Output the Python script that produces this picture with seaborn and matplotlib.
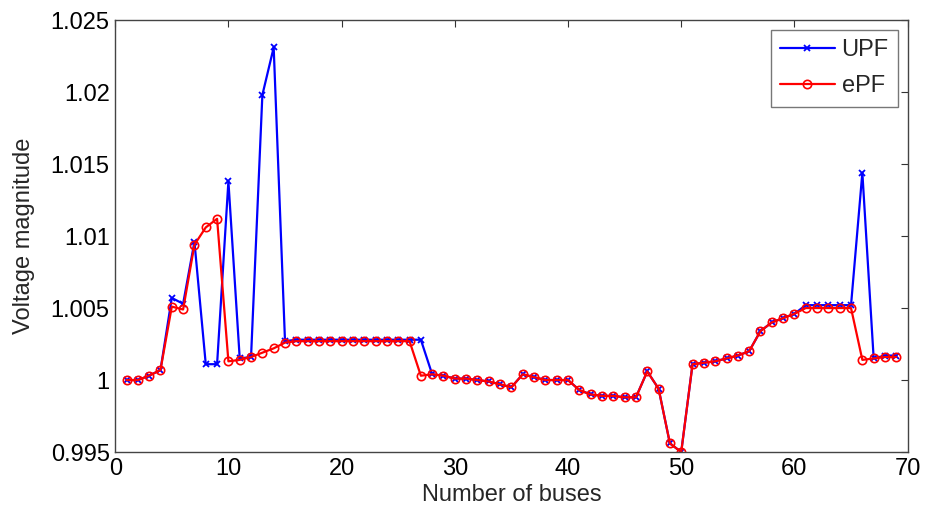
import pandas as pd
import matplotlib
matplotlib.use("Agg")
import matplotlib.pyplot as plt
import seaborn as sns

# Bus numbers and voltage magnitudes.
buses = list(range(1, 70))

upf = [
    1.0000, 1.0000, 1.0003, 1.0007, 1.0057, 1.0053, 1.0096, 1.0011, 1.0011, 1.0138,
    1.0015, 1.0016, 1.0198, 1.0231, 1.0027, 1.0028, 1.0028, 1.0028, 1.0028, 1.0028,
    1.0028, 1.0028, 1.0028, 1.0028, 1.0028, 1.0028, 1.0028, 1.0004, 1.0003, 1.0001,
    1.0001, 1.0000, 0.9999, 0.9997, 0.9995, 1.0004, 1.0002, 1.0000, 1.0000, 1.0000,
    0.9993, 0.9990, 0.9989, 0.9989, 0.9988, 0.9988, 1.0006, 0.9994, 0.9956, 0.9950,
    1.0011, 1.0012, 1.0013, 1.0015, 1.0017, 1.0020, 1.0034, 1.0040, 1.0043, 1.0046,
    1.0052, 1.0052, 1.0052, 1.0052, 1.0052, 1.0144, 1.0015, 1.0017, 1.0017,
]

epf = [
    1.0000, 1.0000, 1.0003, 1.0007, 1.0051, 1.0049, 1.0094, 1.0106, 1.0112, 1.0013,
    1.0014, 1.0016, 1.0019, 1.0022, 1.0026, 1.0027, 1.0027, 1.0027, 1.0027, 1.0027,
    1.0027, 1.0027, 1.0027, 1.0027, 1.0027, 1.0027, 1.0003, 1.0004, 1.0003, 1.0001,
    1.0001, 1.0000, 0.9999, 0.9997, 0.9995, 1.0004, 1.0002, 1.0000, 1.0000, 1.0000,
    0.9993, 0.9990, 0.9989, 0.9989, 0.9988, 0.9988, 1.0006, 0.9994, 0.9956, 0.9950,
    1.0011, 1.0012, 1.0013, 1.0015, 1.0017, 1.0020, 1.0034, 1.0040, 1.0043, 1.0046,
    1.0050, 1.0050, 1.0050, 1.0050, 1.0050, 1.0014, 1.0015, 1.0016, 1.0016,
]

df = pd.DataFrame({"Bus": buses, "UPF": upf, "ePF": epf})

sns.set_style("white")
plt.rcParams["font.family"] = ["Liberation Sans", "DejaVu Sans"]

fig = plt.figure(figsize=(9.29, 5.16), dpi=100)
ax = fig.add_axes([0.124, 0.124, 0.853, 0.837])

sns.lineplot(data=df, x="Bus", y="UPF", ax=ax, color="#0000ff", marker="x",
             markersize=5, markeredgecolor="#0000ff", markeredgewidth=1.3,
             linewidth=1.6, label="UPF")
sns.lineplot(data=df, x="Bus", y="ePF", ax=ax, color="#ff0000", marker="o",
             markersize=6, markerfacecolor="none", markeredgecolor="#ff0000",
             markeredgewidth=1.2, linewidth=1.6, label="ePF")

ax.set_xlim(0, 70)
ax.set_ylim(0.995, 1.025)
ax.set_xticks(range(0, 71, 10))
ax.set_yticks([0.995, 1.0, 1.005, 1.01, 1.015, 1.02, 1.025])
ax.set_yticklabels(["0.995", "1", "1.005", "1.01", "1.015", "1.02", "1.025"])
ax.tick_params(direction="in", top=True, right=True, length=5, width=0.8,
               labelsize=17, colors="#333333", labelcolor="black", pad=4)
for s in ax.spines.values():
    s.set_color("#444444")
    s.set_linewidth(1.0)

ax.set_xlabel("Number of buses", fontsize=17, labelpad=3)
ax.set_ylabel("Voltage magnitude", fontsize=17, labelpad=11)

leg = ax.legend(loc="upper right", fontsize=17, frameon=True, fancybox=False,
                handlelength=2.3, borderpad=0.4, labelspacing=0.6,
                handletextpad=0.3, borderaxespad=0.4)
leg.get_frame().set_edgecolor("#555555")
leg.get_frame().set_linewidth(1.0)

fig.savefig("out.png", dpi=100)
